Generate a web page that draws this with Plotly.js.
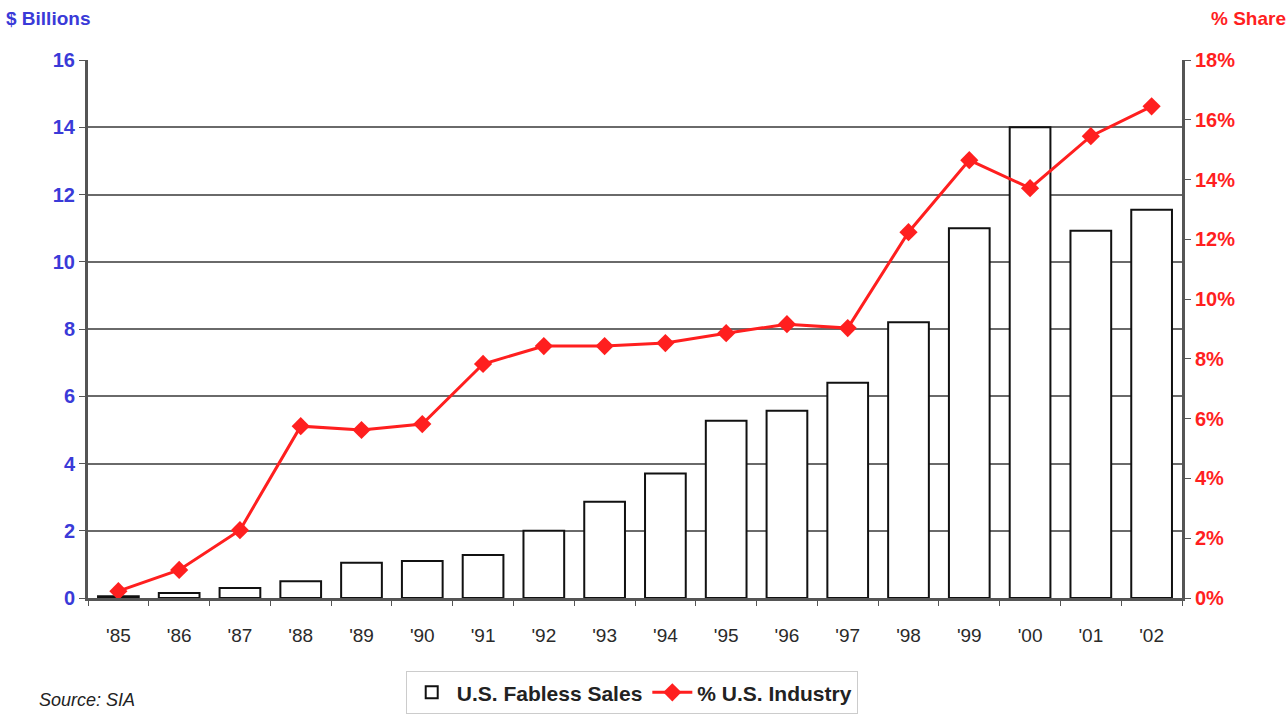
<!DOCTYPE html>
<html><head><meta charset="utf-8">
<script src="https://cdn.plot.ly/plotly-3.0.1.min.js"></script>
<style>body{margin:0;background:#fff}#c{width:1288px;height:714px}</style>
</head><body><div id="c"></div>
<script>
const years = ["'85","'86","'87","'88","'89","'90","'91","'92","'93","'94","'95","'96","'97","'98","'99","'00","'01","'02"];
const salesBillions = [0.05,0.15,0.3,0.5,1.05,1.1,1.28,2.0,2.86,3.7,5.27,5.57,6.4,8.2,11.0,14.0,10.92,11.55];
const sharePct = [0.23,0.94,2.27,5.75,5.62,5.82,7.83,8.43,8.43,8.53,8.86,9.16,9.03,12.24,14.65,13.71,15.45,16.45];
const leftTicks = [0,2,4,6,8,10,12,14,16];
const rightTicks = [0,2,4,6,8,10,12,14,16,18];

const blue = '#3a3ad8', red = '#ff1f1f';
const font = 'Liberation Sans, Arial, sans-serif';

const traces = [
  {type:'bar', x:years, y:salesBillions, name:'U.S. Fabless Sales',
   marker:{color:'#ffffff', line:{color:'#111', width:2}}, yaxis:'y'},
  {type:'scatter', mode:'lines+markers', x:years, y:sharePct, name:'% U.S. Industry',
   line:{color:red, width:3}, marker:{symbol:'diamond', size:14, color:red}, yaxis:'y2'}
];

const layout = {
  width:1288, height:714, margin:{l:88, r:106, t:60, b:116, autoexpand:false},
  paper_bgcolor:'#fff', plot_bgcolor:'#fff',
  font:{family:font, size:17, color:'#222'},
  bargap:0.33, showlegend:true,
  xaxis:{type:'category', range:[-0.5,17.5], showgrid:false, showline:true, linecolor:'#555', linewidth:3,
    ticks:'outside', tickson:'boundaries', ticklen:5, tickcolor:'#555', ticklabelstandoff:18,
    tickfont:{family:font, size:19, color:'#2a2a2a'}, fixedrange:true, automargin:false},
  yaxis:{range:[0,16], tickvals:leftTicks, showgrid:true, gridcolor:'#6a6a6a', gridwidth:2,
    showline:true, linecolor:'#555', linewidth:3, ticks:'outside', ticklen:6, tickcolor:'#555',
    tickfont:{family:font, size:20, color:blue, weight:'bold'}, zeroline:false, automargin:false},
  yaxis2:{range:[0,18], overlaying:'y', side:'right', tickvals:rightTicks,
    ticktext:rightTicks.map(v=>v+'%'), showgrid:false, showline:true, linecolor:'#555', linewidth:3,
    ticks:'outside', ticklen:6, tickcolor:'#555',
    tickfont:{family:font, size:20, color:red, weight:'bold'}, zeroline:false, automargin:false},
  legend:{orientation:'h', x:0.497, xanchor:'center', y:-0.136, yanchor:'top',
    bordercolor:'#cccccc', borderwidth:1, bgcolor:'#fff', itemwidth:40,
    font:{family:font, size:21, color:'#222', weight:'bold'}, traceorder:'normal'},
  annotations:[
    {xref:'paper', yref:'paper', x:-0.077, y:1.078, xanchor:'left', yanchor:'middle',
     text:'<b>$ Billions</b>', showarrow:false, font:{family:font, size:19, color:blue}},
    {xref:'paper', yref:'paper', x:1.097, y:1.078, xanchor:'right', yanchor:'middle',
     text:'<b>% Share</b>', showarrow:false, font:{family:font, size:19, color:red}},
    {xref:'paper', yref:'paper', x:-0.047, y:-0.19, xanchor:'left', yanchor:'middle',
     text:'<i>Source: SIA</i>', showarrow:false, font:{family:font, size:18, color:'#222'}}
  ]
};
Plotly.newPlot('c', traces, layout, {displayModeBar:false, staticPlot:true});
</script></body></html>
